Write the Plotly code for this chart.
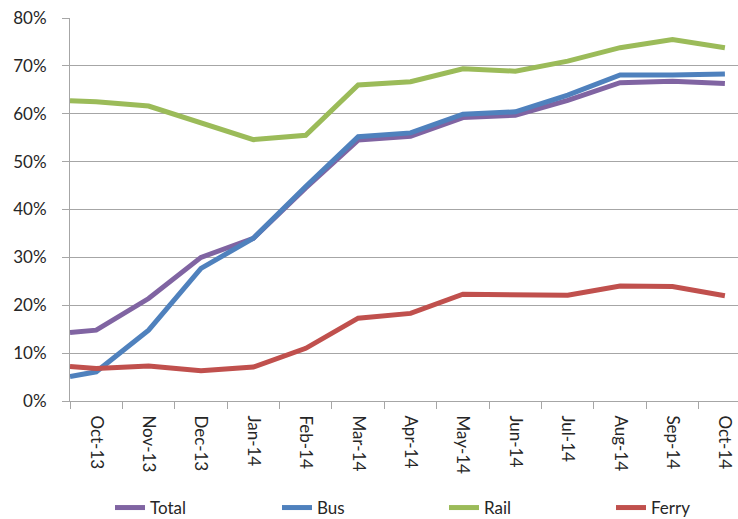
import plotly.graph_objects as go

# Monthly share of trips (fraction), one opening reading plus Oct-13 .. Oct-14
months = ["Oct-13", "Nov-13", "Dec-13", "Jan-14", "Feb-14", "Mar-14", "Apr-14",
          "May-14", "Jun-14", "Jul-14", "Aug-14", "Sep-14", "Oct-14"]

total = [0.143, 0.148, 0.214, 0.300, 0.340, 0.445, 0.545, 0.553, 0.592, 0.597, 0.628, 0.665, 0.668, 0.663]
bus   = [0.051, 0.061, 0.148, 0.277, 0.340, 0.448, 0.552, 0.560, 0.599, 0.604, 0.639, 0.681, 0.681, 0.683]
rail  = [0.627, 0.625, 0.616, 0.580, 0.546, 0.555, 0.660, 0.667, 0.694, 0.689, 0.710, 0.738, 0.755, 0.738]
ferry = [0.072, 0.068, 0.073, 0.063, 0.071, 0.110, 0.173, 0.183, 0.223, 0.221, 0.221, 0.240, 0.239, 0.220]

# opening reading sits on the left edge of the first month
xpos = [-0.5] + list(range(len(months)))

series = [
    ("Total", total, "#8064A2"),
    ("Bus", bus, "#4F81BD"),
    ("Rail", rail, "#9BBB59"),
    ("Ferry", ferry, "#C0504D"),
]

FONT = "Lato, 'Open Sans', Arial, sans-serif"
GRID = "#A6A6A6"

fig = go.Figure()
for name, vals, color in series:
    fig.add_trace(go.Scatter(
        x=xpos, y=vals, name=name, mode="lines",
        line=dict(color=color, width=5),
        hoverinfo="skip",
    ))

fig.update_layout(
    width=738, height=519,
    margin=dict(l=70, r=0, t=17.6, b=118, autoexpand=False),
    paper_bgcolor="white", plot_bgcolor="white",
    font=dict(family=FONT, size=16, color="#262626"),
    showlegend=True,
    legend=dict(
        orientation="h",
        xref="container", x=110 / 738, xanchor="left",
        yref="container", y=1 - 508 / 519, yanchor="middle",
        entrywidth=122, entrywidthmode="pixels",
        font=dict(size=17, color="#262626"),
        itemwidth=30, bgcolor="rgba(0,0,0,0)",
        traceorder="normal",
    ),
)

fig.update_xaxes(
    range=[-0.5, 12.25], automargin=False,
    tickmode="array", tickvals=list(range(len(months))), ticktext=months,
    tickangle=90, ticks="", showgrid=False, zeroline=False,
    showline=True, linecolor=GRID, linewidth=1,
    tickfont=dict(size=17, color="#262626"),
    ticklabelstandoff=10,
    minor=dict(tickmode="array", tickvals=[i - 0.5 for i in range(len(months) + 1)],
               ticks="outside", ticklen=7, tickcolor=GRID, tickwidth=1, showgrid=False),
)

fig.update_yaxes(
    range=[0, 0.8], tickvals=[i / 10 for i in range(9)], tickformat=".0%",
    automargin=False,
    showgrid=True, gridcolor=GRID, gridwidth=1, zeroline=False,
    showline=True, linecolor=GRID, linewidth=1,
    ticks="outside", ticklen=7, tickcolor=GRID,
    ticklabelstandoff=12,
    tickfont=dict(size=17, color="#262626"),
)

fig.write_html("out.html")
